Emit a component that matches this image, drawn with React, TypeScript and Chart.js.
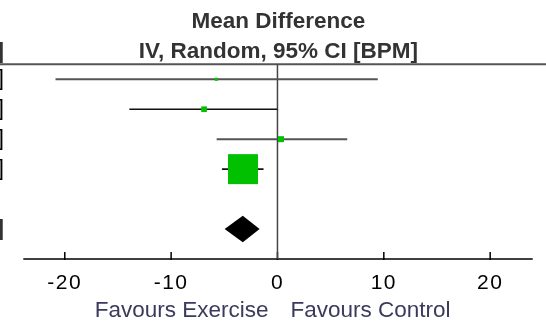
import React, { useEffect, useRef } from "react";
import { Chart, registerables } from "chart.js";

Chart.register(...registerables);

// ---- data ----
const estimates = [-5.75, -6.9, 0.33, -3.24];
const lowerCI = [-20.87, -13.93, -5.72, -5.22];
const upperCI = [9.43, 0.0, 6.56, -1.31];
const weights = [1.0, 3.3, 3.7, 92.0];
const pooledEstimate = -3.26;
const pooledLower = -4.97;
const pooledUpper = -1.68;
const pooledRow = 5;
const tickValues = [-20, -10, 0, 10, 20];
const titleLines = ["Mean Difference", "IV, Random, 95% CI [BPM]"];
const favoursLabels = ["Favours Exercise", "Favours Control"];

// ---- styles ----
const FONT = "'Liberation Sans', Arial, sans-serif";
const ciColors = ["#555555", "#111111", "#555555", "#111111"];
const ciWidths = [2, 1.6, 2, 1.6];
const maxBox = 30;

const fmt = (v: number) => v.toFixed(2);

const forestPlugin = {
  id: "forest",
  beforeDraw(chart: any) {
    const ctx = chart.ctx;
    try { ctx.letterSpacing = "1.5px"; } catch (e) {}
  },
  beforeDatasetsDraw(chart: any) {
    const ctx = chart.ctx;
    try { ctx.letterSpacing = "0px"; } catch (e) {}
    const { chartArea, scales } = chart;
    const x = scales.x;
    ctx.save();
    // top rule
    ctx.strokeStyle = "#555555";
    ctx.lineWidth = 2;
    ctx.beginPath();
    ctx.moveTo(0, chartArea.top);
    ctx.lineTo(chart.width, chartArea.top);
    ctx.stroke();
    // axis line
    ctx.strokeStyle = "#000";
    ctx.lineWidth = 1.5;
    ctx.beginPath();
    ctx.moveTo(chartArea.left, chartArea.bottom);
    ctx.lineTo(chartArea.right, chartArea.bottom);
    ctx.stroke();
    // tick marks (upwards)
    ctx.lineWidth = 1.5;
    for (const t of x.ticks) {
      const px = x.getPixelForValue(t.value);
      ctx.beginPath();
      ctx.moveTo(px, chartArea.bottom - 7);
      ctx.lineTo(px, chartArea.bottom + 1);
      ctx.stroke();
    }
    ctx.restore();
  },
  afterDatasetsDraw(chart: any) {
    const ctx = chart.ctx;
    const x = chart.scales.x;
    const y = chart.scales.y;
    const cy = y.getPixelForValue(pooledRow);
    const half = 13.3;
    ctx.save();
    ctx.fillStyle = "#000";
    ctx.beginPath();
    ctx.moveTo(x.getPixelForValue(pooledLower), cy);
    ctx.lineTo(x.getPixelForValue(pooledEstimate), cy - half);
    ctx.lineTo(x.getPixelForValue(pooledUpper), cy);
    ctx.lineTo(x.getPixelForValue(pooledEstimate), cy + half);
    ctx.closePath();
    ctx.fill();
    ctx.restore();
  },
  afterDraw(chart: any) {
    const ctx = chart.ctx;
    try { ctx.letterSpacing = "0px"; } catch (e) {}
    const x = chart.scales.x;
    const y = chart.scales.y;
    const zx = x.getPixelForValue(0);
    ctx.save();
    // titles
    ctx.fillStyle = "#333333";
    ctx.font = `bold 22.5px ${FONT}`;
    ctx.textAlign = "center";
    ctx.textBaseline = "alphabetic";
    ctx.fillText(titleLines[0], zx + 1, 28);
    ctx.fillText(titleLines[1], zx + 1, 57.5);
    // left column (cut off)
    ctx.textAlign = "right";
    ctx.fillText(titleLines[1], 4, 57.5);
    ctx.font = `22.5px ${FONT}`;
    ctx.fillStyle = "#000";
    estimates.forEach((e, i) => {
      const py = y.getPixelForValue(i);
      ctx.fillText(`${fmt(e)} [${fmt(lowerCI[i])}, ${fmt(upperCI[i])}]`, 4, py + 6);
    });
    ctx.font = `bold 22.5px ${FONT}`;
    ctx.fillStyle = "#333333";
    ctx.fillText(
      `${fmt(pooledEstimate)} [${fmt(pooledLower)}, ${fmt(pooledUpper)}]`,
      4,
      y.getPixelForValue(pooledRow) + 6
    );
    // favours labels
    ctx.font = `22.5px ${FONT}`;
    ctx.fillStyle = "#3a3a5c";
    ctx.textAlign = "right";
    ctx.fillText(favoursLabels[0], zx - 9, 316.5);
    ctx.textAlign = "left";
    ctx.fillText(favoursLabels[1], zx + 13, 316.5);
    ctx.restore();
  },
};

export default function App() {
  const ref = useRef<HTMLCanvasElement | null>(null);
  useEffect(() => {
    document.body.style.margin = "0";
    const canvas = ref.current;
    if (!canvas) return;
    const maxW = Math.max(...weights);
    const chart = new Chart(canvas, {
      type: "scatter",
      data: {
        datasets: [
          {
            label: "Studies",
            data: estimates.map((e, i) => ({ x: e, y: i })),
            pointStyle: "rect",
            pointRadius: weights.map((w) => (maxBox * Math.sqrt(w / maxW)) / Math.SQRT2),
            pointHoverRadius: weights.map((w) => (maxBox * Math.sqrt(w / maxW)) / Math.SQRT2),
            backgroundColor: "#00C000",
            borderWidth: 0,
            clip: false,
            order: 0,
          } as any,
          ...lowerCI.map((lo, i) => ({
            label: `CI ${i + 1}`,
            data: [
              { x: lo, y: i },
              { x: upperCI[i], y: i },
            ],
            showLine: true,
            borderColor: ciColors[i],
            borderWidth: ciWidths[i],
            pointRadius: 0,
            order: 1,
          })),
          {
            label: "No effect",
            data: [
              { x: 0, y: -0.5 },
              { x: 0, y: 6 },
            ],
            showLine: true,
            borderColor: "#444444",
            borderWidth: 1.5,
            pointRadius: 0,
            order: 2,
          },
        ],
      },
      options: {
        responsive: false,
        animation: false,
        events: [],
        layout: { autoPadding: false, padding: { left: 23.3, right: 13.3, top: 64.3, bottom: 12.8 } },
        plugins: { legend: { display: false }, tooltip: { enabled: false } },
        scales: {
          x: {
            type: "linear",
            min: -23.9,
            max: 24,
            grid: { display: false, drawTicks: false },
            border: { display: false },
            afterBuildTicks: (s: any) => {
              s.ticks = tickValues.map((v) => ({ value: v }));
            },
            ticks: {
              includeBounds: false,
              autoSkip: false,
              maxRotation: 0,
              minRotation: 0,
              padding: 12,
              color: "#000",
              font: { family: FONT, size: 21, lineHeight: 1.2 },
              callback: (v: any) => String(v),
            },
          },
          y: { type: "linear", display: false, reverse: true, min: -0.5, max: 6 },
        },
      } as any,
      plugins: [forestPlugin],
    });
    return () => chart.destroy();
  }, []);
  return (
    <div style={{ position: "fixed", left: 0, top: 0, width: 546, height: 321, background: "#fff" }}>
      <canvas ref={ref} width={546} height={321} />
    </div>
  );
}
